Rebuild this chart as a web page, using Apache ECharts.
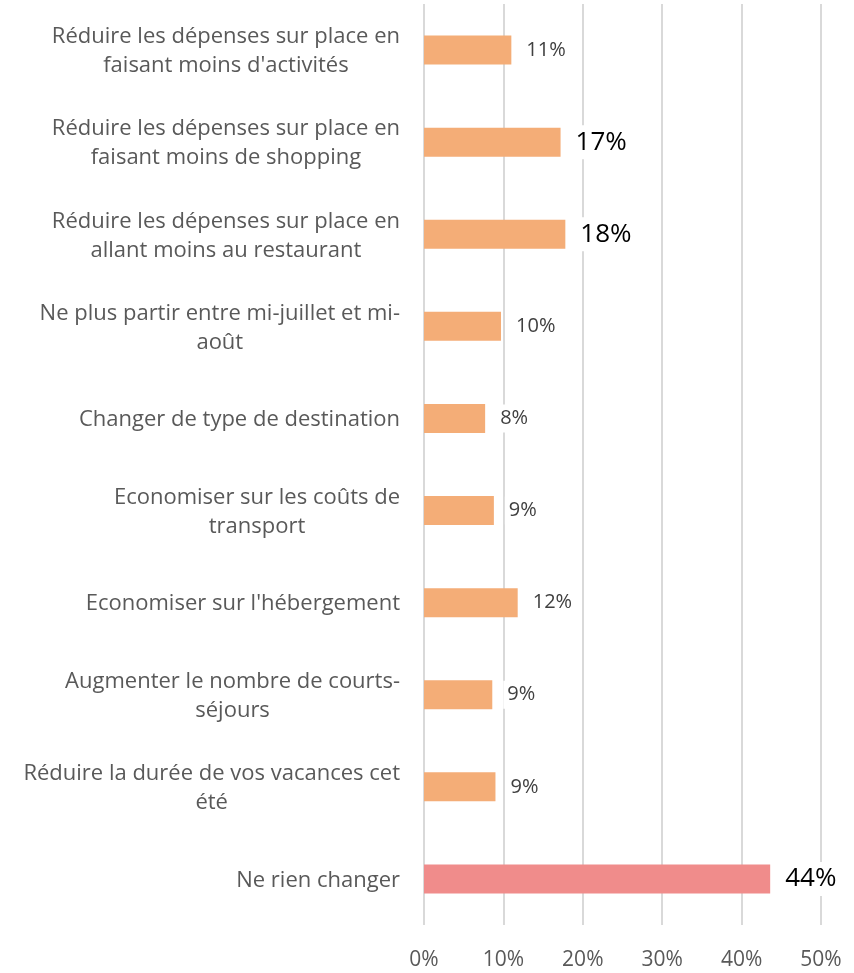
<!DOCTYPE html>
<html>
<head>
<meta charset="utf-8">
<script src="https://cdn.jsdelivr.net/npm/echarts@6/dist/echarts.min.js"></script>
<style>
  html, body { margin: 0; padding: 0; background: #fff; }
  #chart { width: 854px; height: 973px; }
</style>
</head>
<body>
<div id="chart"></div>
<script>
// catégories (de haut en bas)
var categories = [
  "Réduire les dépenses sur place en\nfaisant moins d'activités",
  "Réduire les dépenses sur place en\nfaisant moins de shopping",
  "Réduire les dépenses sur place en\nallant moins au restaurant",
  "Ne plus partir entre mi-juillet et mi-\naoût",
  "Changer de type de destination",
  "Economiser sur les coûts de\ntransport",
  "Economiser sur l'hébergement",
  "Augmenter le nombre de courts-\nséjours",
  "Réduire la durée de vos vacances cet\nété",
  "Ne rien changer"
];
// valeurs en %
var values = [11.0, 17.2, 17.8, 9.7, 7.7, 8.8, 11.8, 8.6, 9.0, 43.6];
// étiquettes mises en avant (plus grandes, en noir)
var highlighted = [false, true, true, false, false, false, false, false, false, true];
var xTicks = [0, 10, 20, 30, 40, 50];

var FONT = 'Open Sans';
var orange = '#F4AD77';
var pink = '#F08C8B';

var data = values.map(function (v, i) {
  var big = highlighted[i];
  return {
    value: v,
    itemStyle: { color: i === values.length - 1 ? pink : orange },
    label: {
      fontSize: big ? 26 : 20,
      color: big ? '#000' : '#404040'
    }
  };
});

var chart = echarts.init(document.getElementById('chart'));
chart.setOption({
  animation: false,
  textStyle: { fontFamily: FONT },
  grid: { left: 424, right: 33, top: 4, bottom: 48, containLabel: false },
  xAxis: {
    type: 'value',
    min: xTicks[0],
    max: xTicks[xTicks.length - 1],
    interval: 10,
    axisLine: { show: false },
    axisTick: { show: false },
    splitLine: { show: true, lineStyle: { color: '#d9d9d9', width: 2 } },
    axisLabel: {
      formatter: '{value}%',
      fontSize: 21,
      color: '#595959',
      margin: 25,
      fontFamily: FONT
    }
  },
  yAxis: {
    type: 'category',
    inverse: true,
    data: categories,
    axisLine: { show: false },
    axisTick: { show: false },
    axisLabel: {
      color: '#595959',
      margin: 24,
      align: 'right',
      // chaque ligne centrée dans le bloc aligné à droite
      formatter: function (v) {
        return v.split('\n').map(function (l) { return '{c|' + l + '}'; }).join('\n');
      },
      rich: {
        c: { align: 'center', fontSize: 22, lineHeight: 29, color: '#595959', fontFamily: FONT, padding: [3, 0, 0, 0] }
      }
    }
  },
  series: [{
    type: 'bar',
    data: data,
    barWidth: 29,
    label: {
      show: true,
      position: 'right',
      distance: 11,
      backgroundColor: '#fff',
      padding: [7, 4, 1, 4],
      fontFamily: FONT,
      formatter: function (p) { return Math.round(p.value) + '%'; }
    }
  }]
});
</script>
</body>
</html>
